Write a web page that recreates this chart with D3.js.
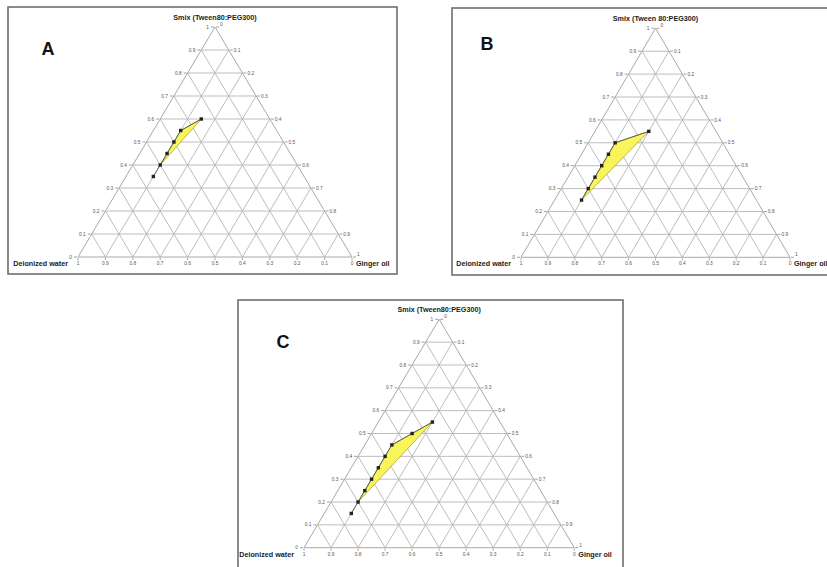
<!DOCTYPE html>
<html>
<head>
<meta charset="utf-8">
<script src="https://cdn.jsdelivr.net/npm/d3@7"></script>
<style>
  body { margin: 0; background: #fff; }
  svg { display: block; font-family: "Liberation Sans", Arial, sans-serif; }
</style>
</head>
<body>
<div id="chart"></div>
<script>
// tick values and labels shared by the three ternary plots
var tickValues = [0, 0.1, 0.2, 0.3, 0.4, 0.5, 0.6, 0.7, 0.8, 0.9, 1];
var tickLabels = ["0", "0.1", "0.2", "0.3", "0.4", "0.5", "0.6", "0.7", "0.8", "0.9", "1"];

// panel A : Tween80:PEG300
var aSmix  = [0.60, 0.55, 0.50, 0.45, 0.40, 0.35];
var aOil   = [0.15, 0.10, 0.10, 0.10, 0.10, 0.10];
var aWater = [0.25, 0.35, 0.40, 0.45, 0.50, 0.55];
var aRegion = 5;   // first n points make the nanoemulsion region

// panel B : Tween 80:PEG300
var bSmix  = [0.55, 0.50, 0.45, 0.40, 0.35, 0.30, 0.25];
var bOil   = [0.20, 0.10, 0.10, 0.10, 0.10, 0.10, 0.10];
var bWater = [0.25, 0.40, 0.45, 0.50, 0.55, 0.60, 0.65];
var bRegion = 7;

// panel C : Tween80:PEG300
var cSmix  = [0.55, 0.50, 0.45, 0.40, 0.35, 0.30, 0.25, 0.20, 0.15];
var cOil   = [0.20, 0.15, 0.10, 0.10, 0.10, 0.10, 0.10, 0.10, 0.10];
var cWater = [0.25, 0.35, 0.45, 0.50, 0.55, 0.60, 0.65, 0.70, 0.75];
var cRegion = 8;

var panels = [
  { letter: "A", title: "Smix (Tween80:PEG300)", smix: aSmix, oil: aOil, water: aWater, region: aRegion,
    frame: [8, 7, 389, 267], tri: [78, 352, 257, 27], letterPos: [48, 55] },
  { letter: "B", title: "Smix (Tween 80:PEG300)", smix: bSmix, oil: bOil, water: bWater, region: bRegion,
    frame: [452, 8, 390, 267], tri: [521, 790, 257.3, 28.3], letterPos: [487, 50] },
  { letter: "C", title: "Smix (Tween80:PEG300)", smix: cSmix, oil: cOil, water: cWater, region: cRegion,
    frame: [238, 300, 385, 290], tri: [304, 574.3, 547.7, 319.3], letterPos: [283, 348] }
];

var svg = d3.select("#chart")
  .append("svg")
  .attr("width", 827)
  .attr("height", 567);

var gridColor = "#b5b5b5";
var labelColor = "#555";

panels.forEach(function (p) {
  var g = svg.append("g");

  // frame
  g.append("rect")
    .attr("x", p.frame[0]).attr("y", p.frame[1])
    .attr("width", p.frame[2]).attr("height", p.frame[3])
    .attr("fill", "#fff")
    .attr("stroke", "#6f6f6f")
    .attr("stroke-width", 1.6);

  // scales: x runs along the base (oil + smix/2), y is the smix height
  var x = d3.scaleLinear().domain([0, 1]).range([p.tri[0], p.tri[1]]);
  var y = d3.scaleLinear().domain([0, 1]).range([p.tri[2], p.tri[3]]);
  function px(o, s) { return x(o + s / 2); }
  function py(s) { return y(s); }

  // grid lines parallel to each side
  var inner = tickValues.slice(1, 10);
  inner.forEach(function (v) {
    // smix = v
    g.append("line")
      .attr("x1", px(0, v)).attr("y1", py(v))
      .attr("x2", px(1 - v, v)).attr("y2", py(v))
      .attr("stroke", gridColor).attr("stroke-width", 0.9);
    // oil = v
    g.append("line")
      .attr("x1", px(v, 0)).attr("y1", py(0))
      .attr("x2", px(v, 1 - v)).attr("y2", py(1 - v))
      .attr("stroke", gridColor).attr("stroke-width", 0.9);
    // water = v
    g.append("line")
      .attr("x1", px(1 - v, 0)).attr("y1", py(0))
      .attr("x2", px(0, 1 - v)).attr("y2", py(1 - v))
      .attr("stroke", gridColor).attr("stroke-width", 0.9);
  });

  // triangle border
  g.append("path")
    .attr("d", d3.line()([[px(0, 0), py(0)], [px(1, 0), py(0)], [px(0, 1), py(1)]]) + "Z")
    .attr("fill", "none")
    .attr("stroke", "#a8a8a8")
    .attr("stroke-width", 1);

  // left side ticks + labels (smix)
  tickValues.forEach(function (v, i) {
    var lx = px(0, v), ly = py(v);
    g.append("line")
      .attr("x1", lx - 4).attr("x2", lx - 1).attr("y1", ly).attr("y2", ly)
      .attr("stroke", "#888").attr("stroke-width", 0.8);
    g.append("text")
      .attr("x", lx - 6).attr("y", ly + 1.6)
      .attr("text-anchor", "end")
      .attr("font-size", 4.8).attr("fill", labelColor)
      .text(tickLabels[i]);
  });

  // right side ticks + labels (oil = 1 - smix)
  tickValues.forEach(function (v, i) {
    var rx = px(1 - v, v), ry = py(v);
    g.append("line")
      .attr("x1", rx + 1).attr("x2", rx + 4).attr("y1", ry).attr("y2", ry)
      .attr("stroke", "#888").attr("stroke-width", 0.8);
    g.append("text")
      .attr("x", rx + 5).attr("y", ry + (v === 1 || v === 0 ? -1 : 1.6))
      .attr("text-anchor", "start")
      .attr("font-size", 4.8).attr("fill", labelColor)
      .text(tickLabels[10 - i]);
  });

  // bottom labels (water, 1 at left corner)
  tickValues.forEach(function (v, i) {
    var bx = px(v, 0);
    g.append("line")
      .attr("x1", bx).attr("x2", bx).attr("y1", py(0) + 1).attr("y2", py(0) + 3)
      .attr("stroke", "#888").attr("stroke-width", 0.8);
    g.append("text")
      .attr("x", bx).attr("y", py(0) + 8)
      .attr("text-anchor", "middle")
      .attr("font-size", 4.8).attr("fill", labelColor)
      .text(tickLabels[10 - i]);
  });

  // axis titles
  g.append("text")
    .attr("x", px(0, 1)).attr("y", py(1) - 7)
    .attr("text-anchor", "middle")
    .attr("font-size", 7.2).attr("font-weight", "bold").attr("fill", "#222")
    .text(p.title);
  g.append("text")
    .attr("x", px(0, 0) - 10).attr("y", py(0) + 9)
    .attr("text-anchor", "end")
    .attr("font-size", 7.2).attr("font-weight", "bold").attr("fill", "#222")
    .text("Deionized water");
  g.append("text")
    .attr("x", px(1, 0) + 4).attr("y", py(0) + 9)
    .attr("text-anchor", "start")
    .attr("font-size", 7.2).attr("font-weight", "bold").attr("fill", "#222")
    .text("Ginger oil");

  // panel letter
  g.append("text")
    .attr("x", p.letterPos[0]).attr("y", p.letterPos[1])
    .attr("text-anchor", "middle")
    .attr("font-size", 18).attr("font-weight", "bold").attr("fill", "#111")
    .text(p.letter);

  // data points
  var pts = p.smix.map(function (s, i) {
    return { s: s, o: p.oil[i], w: p.water[i] };
  });

  var line = d3.line()
    .x(function (d) { return px(d.o, d.s); })
    .y(function (d) { return py(d.s); });

  // nanoemulsion region (closed back to the first point)
  var region = pts.slice(0, p.region);
  g.append("path")
    .datum(region)
    .attr("d", function (d) { return line(d) + "Z"; })
    .attr("fill", "#f8f45a")
    .attr("stroke", "#a9a640")
    .attr("stroke-width", 0.8);

  // line through points
  g.append("path")
    .datum(pts)
    .attr("d", line)
    .attr("fill", "none")
    .attr("stroke", "#555")
    .attr("stroke-width", 0.9);

  g.selectAll("rect.pt")
    .data(pts)
    .enter()
    .append("rect")
    .attr("class", "pt")
    .attr("x", function (d) { return px(d.o, d.s) - 1.7; })
    .attr("y", function (d) { return py(d.s) - 1.7; })
    .attr("width", 3.4).attr("height", 3.4)
    .attr("fill", "#222");
});
</script>
</body>
</html>
